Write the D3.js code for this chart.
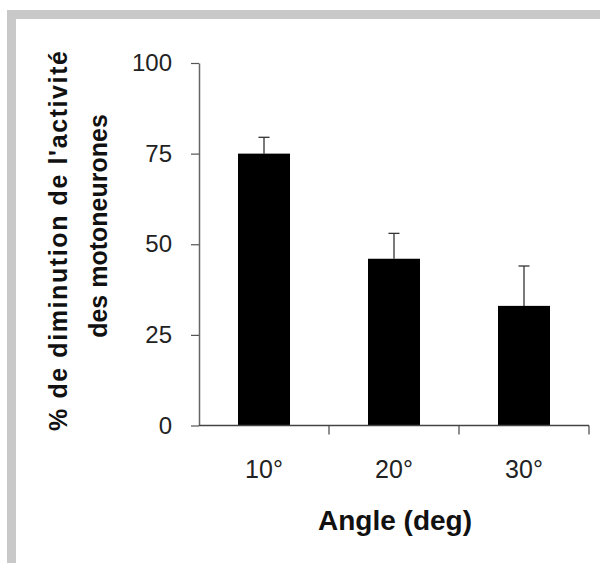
<!DOCTYPE html>
<html>
<head>
<meta charset="utf-8">
<script src="https://cdn.jsdelivr.net/npm/d3@7/dist/d3.min.js"></script>
<style>
  html, body { margin: 0; padding: 0; background: #fff; }
  svg { display: block; }
</style>
</head>
<body>
<script>
const categories = ["10°", "20°", "30°"];
const values = [75, 46, 33];
const errors = [4.5, 7, 11];
const yTicks = [0, 25, 50, 75, 100];
const xTitle = "Angle (deg)";
const yTitleLines = ["% de diminution de l'activité", "des motoneurones"];

const W = 600, H = 563;
const svg = d3.select("body").append("svg").attr("width", W).attr("height", H);

// frame (top + left gray bands)
svg.append("rect").attr("x", 7).attr("y", 10).attr("width", W - 7).attr("height", 9).attr("fill", "#c9c9c9");
svg.append("rect").attr("x", 7).attr("y", 10).attr("width", 9).attr("height", H - 10).attr("fill", "#c9c9c9");

const x0 = 199, x1 = 589, yBot = 425.5, yTop = 63;
const x = d3.scaleBand().domain(categories).range([x0, x1]).paddingInner(0.6).paddingOuter(0.3);
const y = d3.scaleLinear().domain([0, 100]).range([yBot, yTop]);
const step = x.step();

const font = "'Liberation Sans', Arial, sans-serif";

// bars
svg.selectAll("rect.bar").data(values).enter().append("rect")
  .attr("class", "bar")
  .attr("x", (d, i) => x(categories[i]))
  .attr("width", x.bandwidth())
  .attr("y", d => y(d))
  .attr("height", d => y(0) - y(d))
  .attr("fill", "#000");

// error bars
const eg = svg.append("g").attr("stroke", "#333").attr("stroke-width", 1.3);
values.forEach((v, i) => {
  const cx = x(categories[i]) + x.bandwidth() / 2;
  eg.append("line").attr("x1", cx).attr("x2", cx).attr("y1", y(v)).attr("y2", y(v + errors[i]));
  eg.append("line").attr("x1", cx - 5.5).attr("x2", cx + 5.5).attr("y1", y(v + errors[i])).attr("y2", y(v + errors[i]));
});

// y axis
const yAxis = svg.append("g").attr("transform", `translate(${x0},0)`)
  .call(d3.axisLeft(y).tickValues(yTicks).tickSize(8).tickSizeOuter(0).tickPadding(19));
yAxis.select(".domain").attr("stroke", "#666").attr("stroke-width", 1.5);
yAxis.selectAll(".tick line").attr("stroke", "#555").attr("stroke-width", 1.2);
yAxis.selectAll(".tick text").attr("font-family", font).attr("font-size", 24).attr("fill", "#222");

// x axis line + boundary ticks
svg.append("line").attr("x1", x0).attr("x2", x1).attr("y1", y(0)).attr("y2", y(0))
  .attr("stroke", "#444").attr("stroke-width", 1.3);
categories.forEach((c, i) => {
  const bx = x(c) + x.bandwidth() + (step - x.bandwidth()) / 2;
  svg.append("line").attr("x1", bx).attr("x2", bx).attr("y1", y(0)).attr("y2", y(0) + 9)
    .attr("stroke", "#444").attr("stroke-width", 1.2);
});
// x labels
svg.selectAll("text.xl").data(categories).enter().append("text")
  .attr("class", "xl")
  .attr("x", d => x(d) + x.bandwidth() / 2)
  .attr("y", y(0) + 52)
  .attr("text-anchor", "middle")
  .attr("font-family", font).attr("font-size", 25).attr("fill", "#222")
  .text(d => d);

// x title
svg.append("text").attr("x", 395).attr("y", 530).attr("text-anchor", "middle")
  .attr("font-family", font).attr("font-size", 28).attr("font-weight", "bold").attr("fill", "#111")
  .text(xTitle);

// y title
const yPos = [[67, 241, 380], [107, 226, null]];
yTitleLines.forEach((t, i) => {
  const el = svg.append("text")
    .attr("transform", `translate(${yPos[i][0]},${yPos[i][1]}) rotate(-90)`)
    .attr("text-anchor", "middle")
    .attr("font-family", font).attr("font-size", 25).attr("font-weight", "bold").attr("fill", "#111")
    .text(t);
  if (yPos[i][2]) el.attr("textLength", yPos[i][2]).attr("lengthAdjust", "spacing");
});
</script>
</body>
</html>
